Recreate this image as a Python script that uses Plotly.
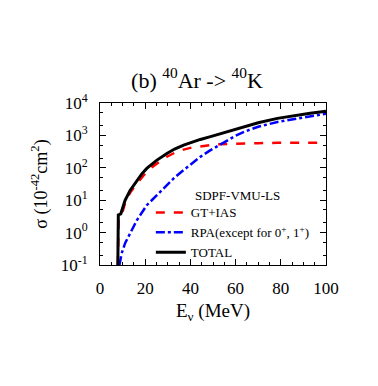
import plotly.graph_objects as go

# ---- data ----
E_gt = [7.9, 8.0, 8.2, 9.0, 9.8, 11.1, 13.3, 16.3, 18.5, 20.7, 23, 25.2, 29.6, 33, 37, 40.5, 44.4, 48.9, 52.6, 58, 64, 70, 78.5, 90, 100]
gt_ias = [0.1, 1.0, 2.5, 3.0, 4, 8, 17, 33, 52, 76, 105, 135, 220, 290, 365, 420, 465, 500, 530, 550, 560, 575, 590, 592, 592]

E_rpa = [8.6, 9.6, 11.1, 13.3, 16.3, 20.7, 25.2, 29.6, 33, 37, 40.5, 44.4, 48.9, 52.6, 56.3, 60, 63.7, 70, 78.5, 86, 93.3, 100]
rpa = [0.1, 0.23, 0.47, 0.95, 2.4, 7, 14, 29, 50, 85, 135, 218, 350, 500, 720, 980, 1290, 1850, 2600, 3200, 3800, 4700]

E_tot = [7.9, 8.0, 8.1, 9.2, 10, 11.1, 13.3, 16.3, 18.5, 20.7, 25.2, 29.6, 33, 37, 40.5, 44.4, 48.9, 52.6, 57, 63.7, 70, 78.5, 86, 93, 100]
total = [0.1, 1.0, 3.5, 3.8, 5.5, 10, 20, 41, 65, 96, 173, 277, 380, 500, 610, 750, 920, 1090, 1380, 1900, 2450, 3350, 4150, 4850, 5600]

y_tickvals = [0.1, 1, 10, 100, 1000, 10000]
y_ticktext = ["10<sup>-1</sup>", "10<sup>0</sup>", "10<sup>1</sup>", "10<sup>2</sup>", "10<sup>3</sup>", "10<sup>4</sup>"]
x_tickvals = [0, 20, 40, 60, 80, 100]

FONT = "Liberation Serif"

fig = go.Figure()
fig.add_trace(go.Scatter(x=E_gt, y=gt_ias, mode="lines", name="GT+IAS",
                         line=dict(color="#ff0000", width=2.5, dash="dash")))
fig.add_trace(go.Scatter(x=E_rpa, y=rpa, mode="lines", name="RPA(except for 0<sup>+</sup>, 1<sup>+</sup>)",
                         line=dict(color="#0000ff", width=2.5, dash="dashdot")))
fig.add_trace(go.Scatter(x=E_tot, y=total, mode="lines", name="TOTAL",
                         line=dict(color="#000000", width=3)))

axis_common = dict(showline=True, linecolor="black", linewidth=1, mirror="ticks",
                   ticks="inside", tickcolor="black", showgrid=False, zeroline=False,
                   automargin=False, ticklabelstandoff=8,
                   tickfont=dict(family=FONT, size=17, color="black"))

fig.update_xaxes(range=[0, 100], tickvals=x_tickvals, ticklen=6,
                 minor=dict(dtick=5, ticks="inside", ticklen=3, tickcolor="black"),
                 title=dict(text="E<sub>ν</sub> (MeV)", font=dict(family=FONT, size=19, color="black"), standoff=6),
                 **axis_common)
fig.update_yaxes(type="log", range=[-1, 4], tickvals=y_tickvals, ticktext=y_ticktext, ticklen=6,
                 minor=dict(ticks="inside", ticklen=3, tickcolor="black", showgrid=False),
                 title=dict(text="σ (10<sup>-42</sup>cm<sup>2</sup>)", font=dict(family=FONT, size=18, color="black"), standoff=8),
                 **axis_common)

fig.update_layout(
    width=378, height=386,
    font=dict(family=FONT, color="black"),
    margin=dict(l=92, r=60, t=95, b=129),
    paper_bgcolor="white", plot_bgcolor="white",
    title=dict(text="(b) <sup>40</sup>Ar -> <sup>40</sup>K", x=0.5, xanchor="center",
               y=1 - 72 / 386, yref="container", yanchor="middle",
               font=dict(family=FONT, size=22, color="black")),
    showlegend=True,
    legend=dict(x=0.225, y=0.417, xanchor="left", yanchor="top", bgcolor="rgba(0,0,0,0)",
                font=dict(family=FONT, size=13, color="black"), itemwidth=30, tracegroupgap=0),
    annotations=[dict(text="SDPF-VMU-LS", x=0.61, y=0.432, xref="paper", yref="paper",
                      xanchor="center", yanchor="middle", showarrow=False,
                      font=dict(family=FONT, size=13, color="black"))],
)

fig.write_html("out.html")
